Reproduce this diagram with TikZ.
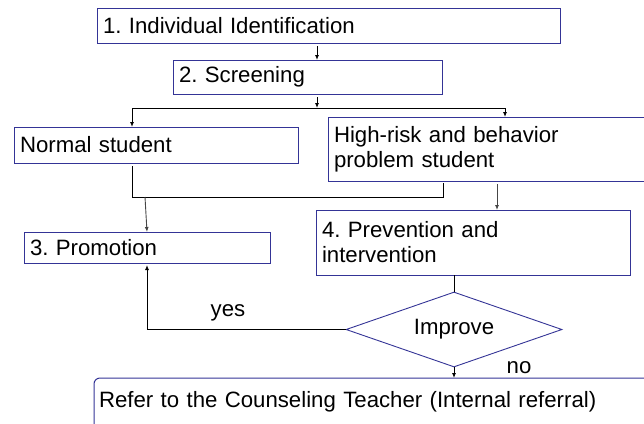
\documentclass[tikz,border=0pt]{standalone}
\usepackage{fontspec}
\setmainfont{Liberation Sans}
\usetikzlibrary{shapes.geometric,arrows.meta}
\definecolor{boxblue}{RGB}{52,52,150}
\definecolor{linegray}{RGB}{70,70,70}

\begin{document}
\frenchspacing
\begin{tikzpicture}[x=1pt,y=-1pt,line width=0.9pt,
  box/.style={draw=boxblue,line width=1pt,anchor=north west,align=left,
    inner xsep=6pt,inner ysep=0pt,outer sep=0pt},
  arr/.style={-{Latex[length=5pt,width=4pt]}}]
\fontsize{22.2}{25}\selectfont
\clip (0,0) rectangle (644,423);

\node[box,text width=451pt,minimum height=35pt] (ident) at (97,8) {1. Individual Identification};
\node[box,text width=257pt,minimum height=34pt] (screen) at (173,60) {2. Screening};
\node[box,text width=272pt,minimum height=36pt] (normal) at (14,127) {Normal student};
\node[box,text width=318pt,minimum height=64pt] (risk) at (328,117) {High-risk and behavior\\problem student};
\node[box,text width=234pt,minimum height=31pt] (promo) at (24,232) {3. Promotion};
\node[box,text width=302pt,minimum height=65pt] (prev) at (316,210) {4. Prevention and\\intervention};
\node[diamond,aspect=2.88,draw=boxblue,line width=0.9pt,inner sep=0pt,minimum width=216pt,
  minimum height=75pt] (improve) at (454,329.5) {Improve};
\node[box,rounded corners=6pt,text width=588pt,inner xsep=5pt,text height=29pt,
  text depth=60pt] (refer) at (94,378) {Refer to the Counseling Teacher (Internal referral)};

\coordinate (fork) at (317,108);
\coordinate (forkL) at (132,108);
\coordinate (forkR) at (505,108);
\coordinate (joinL) at (132,197);
\coordinate (joinR) at (443,197);
\coordinate (join) at (145,197);

\draw[arr,shorten <=3pt] (ident.south -| fork) -- (screen.north -| fork);
\draw[arr,shorten <=3pt] (screen.south -| fork) -- (fork);
\draw (forkL) -- (forkR);
\draw[arr] (forkL) -- (forkL |- normal.north);
\draw[arr] (forkR) -- (forkR |- risk.north);

\draw[shorten <=3pt,shorten >=2pt] (joinL |- normal.south) -- (joinL) -- (joinR) -- (joinR |- risk.south);
\draw[arr,linegray] (join) -- (promo.north);
\draw[arr,linegray,shorten <=3pt] ([xshift=4pt]risk.south) -- ([xshift=4pt]risk.south |- prev.north);

\draw (prev.south -| improve.north) -- (improve.north);
\draw[arr,shorten >=2pt] (improve.west) -| (promo.south);
\draw[arr] (improve.south) -- (improve.south |- refer.north);

\node (yes) at (228,312.5) {yes};
\node (no) at (519,368) {no};
\end{tikzpicture}
\end{document}
